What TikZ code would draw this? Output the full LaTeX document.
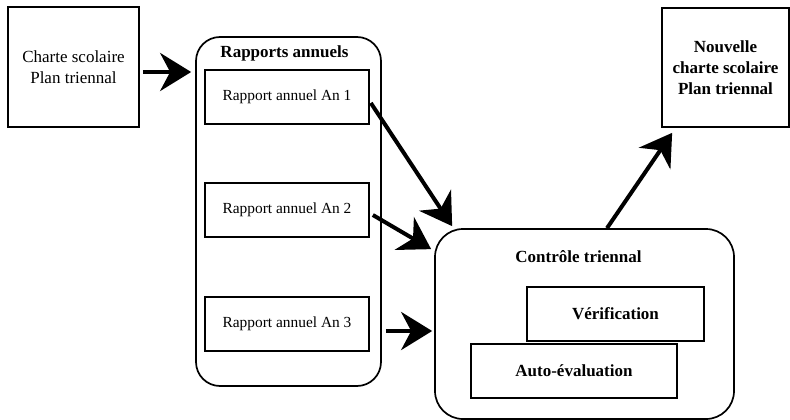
\documentclass[tikz,border=0pt]{standalone}
\usepackage{fontspec}
\setmainfont{Liberation Serif}
\usetikzlibrary{arrows.meta}
\begin{document}
\begin{tikzpicture}[x=1pt,y=-1pt,
  box/.style={draw,line width=1.7pt,inner sep=0pt,align=center,font=\fontsize{17}{21}\selectfont},
  rbox/.style={box,font=\fontsize{15.4}{19}\selectfont},
  round/.style={draw,line width=1.7pt,rounded corners=#1,inner sep=0pt},
  title/.style={inner sep=0pt,font=\fontsize{17}{21}\selectfont\bfseries},
  arr/.style={line width=4pt,-{Stealth[length=31pt,width=38pt,inset=10pt]}}]
\useasboundingbox (0,0) rectangle (790,420);
% left box
\node[box,minimum width=131pt,minimum height=120pt] (charte) at (73.5,67) {Charte scolaire\\Plan triennal};
% rapports annuels container
\node[round=24pt,minimum width=185pt,minimum height=349pt] (rap) at (288.5,211.5) {};
\node[title] (raptitle) at (284.5,53.6) {Rapports annuels};
\node[rbox,minimum width=164pt,minimum height=54pt] (an1) at (287,97) {Rapport annuel An 1};
\node[rbox,minimum width=164pt,minimum height=54pt] (an2) at (287,210) {Rapport annuel An 2};
\node[rbox,minimum width=164pt,minimum height=54pt] (an3) at (287,324) {Rapport annuel An 3};
% controle triennal container
\node[round=28pt,minimum width=299pt,minimum height=190pt] (ctrl) at (584.5,324) {};
\node[title] (ctrltitle) at (578.5,256.5) {Contrôle triennal};
\node[box,font=\fontsize{17}{21}\selectfont\bfseries,minimum width=177pt,minimum height=54pt] (verif) at (615.5,314) {Vérification};
\node[box,fill=white,font=\fontsize{17}{21}\selectfont\bfseries,minimum width=206pt,minimum height=54pt] (auto) at (574,371) {Auto-évaluation};
% nouvelle charte
\node[box,font=\fontsize{17}{21}\selectfont\bfseries,minimum width=127pt,minimum height=119pt] (nouv) at (725.5,67.5) {Nouvelle\\charte scolaire\\Plan triennal};
% arrows
\path ([shift={(3,5)}]charte.east) coordinate (a0);
\draw[arr] (a0) -- ([xshift=-4pt]rap.west |- a0);
\draw[arr] ([shift={(1,6)}]an1.east) -- ([shift={(18,-2)}]ctrl.north west);
\draw[arr] ([shift={(3,5)}]an2.east) -- ([shift={(-3,21)}]ctrl.north west);
\path ([shift={(0,7)}]an3.center) coordinate (a3);
\draw[arr] ([xshift=4pt]rap.east |- a3) -- ([xshift=-2pt]ctrl.west |- a3);
\draw[arr] ([shift={(22.5,0)}]ctrl.north) -- ([shift={(11,5)}]nouv.south west);
\end{tikzpicture}
\end{document}
